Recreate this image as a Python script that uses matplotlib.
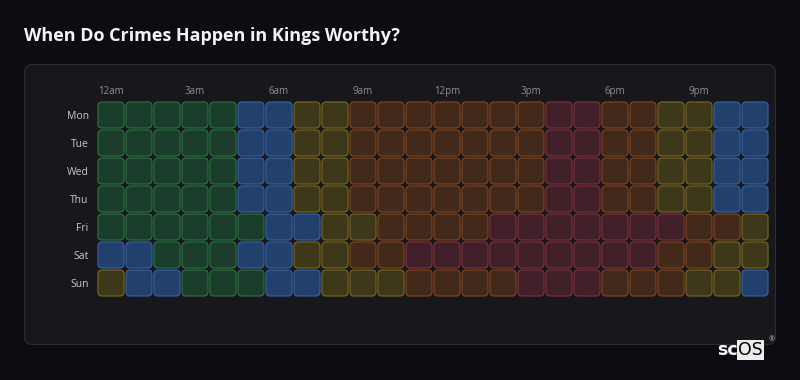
"""
Kings Worthy crime heatmap: day of week x hour of day, coloured by activity band
"""
import matplotlib
matplotlib.use('Agg')
import matplotlib.pyplot as plt
from matplotlib.patches import FancyBboxPatch

plt.rcParams['font.family'] = ['Open Sans', 'DejaVu Sans']

days = ['Mon', 'Tue', 'Wed', 'Thu', 'Fri', 'Sat', 'Sun']
hour_labels = ['12am', '3am', '6am', '9am', '12pm', '3pm', '6pm', '9pm']

# activity band per hour: 0 = quietest ... 4 = busiest
mon = [1, 1, 1, 1, 1, 0, 0, 2, 2, 3, 3, 3, 3, 3, 3, 3, 4, 4, 3, 3, 2, 2, 0, 0]
tue = [1, 1, 1, 1, 1, 0, 0, 2, 2, 3, 3, 3, 3, 3, 3, 3, 4, 4, 3, 3, 2, 2, 0, 0]
wed = [1, 1, 1, 1, 1, 0, 0, 2, 2, 3, 3, 3, 3, 3, 3, 3, 4, 4, 3, 3, 2, 2, 0, 0]
thu = [1, 1, 1, 1, 1, 0, 0, 2, 2, 3, 3, 3, 3, 3, 3, 3, 4, 4, 3, 3, 2, 2, 0, 0]
fri = [1, 1, 1, 1, 1, 1, 0, 0, 2, 2, 3, 3, 3, 3, 4, 4, 4, 4, 4, 4, 4, 3, 3, 2]
sat = [0, 0, 1, 1, 1, 0, 0, 2, 2, 3, 3, 4, 4, 4, 4, 4, 4, 4, 4, 4, 3, 3, 2, 2]
sun = [2, 0, 0, 1, 1, 1, 0, 0, 2, 2, 2, 3, 3, 3, 3, 4, 4, 4, 3, 3, 3, 2, 2, 0]
rows = [mon, tue, wed, thu, fri, sat, sun]

fills = ['#22406c', '#1b3d2b', '#3c3819', '#43291a', '#41202a']
edges = ['#3a62a6', '#2e7444', '#7a6a1e', '#85461f', '#87303f']

BG = '#0d0c12'
fig = plt.figure(figsize=(8, 3.8), dpi=100, facecolor=BG)

# background layer in pixel units
bg = fig.add_axes([0, 0, 1, 1])
bg.set_xlim(0, 800)
bg.set_ylim(380, 0)
bg.axis('off')
bg.add_patch(FancyBboxPatch((24.5, 64.5), 751, 280,
                            boxstyle='round,pad=0,rounding_size=8',
                            facecolor='#18181c', edgecolor='#2c2c32', linewidth=0.8))
bg.text(24, 36, 'When Do Crimes Happen in Kings Worthy?', color='#f4f4f6',
        fontsize=13, fontweight='bold', va='center', ha='left')

# logo
bg.text(717, 350, 'sc', color='white', fontsize=12.5, fontweight='bold', va='center', ha='left',
        family=['DejaVu Sans'])
bg.text(738, 350, 'OS', color='black', fontsize=12.5, va='center', ha='left', family=['DejaVu Sans'],
        bbox=dict(boxstyle='square,pad=0.05', facecolor='#ececec', edgecolor='none'))
bg.text(769, 340, '®', color='#cccccc', fontsize=5, va='center', ha='left')

# heatmap
ax = fig.add_axes([97 / 800, (380 - 297) / 380, 672 / 800, 196 / 380])
ax.set_xlim(0, len(mon))
ax.set_ylim(len(days), 0)
ax.set_facecolor('none')
for s in ax.spines.values():
    s.set_visible(False)

gap = 0.07
for r, vals in enumerate(rows):
    for c, v in enumerate(vals):
        ax.add_patch(FancyBboxPatch((c + gap / 2, r + gap / 2), 1 - gap, 1 - gap,
                                    boxstyle='round,pad=0,rounding_size=0.15',
                                    facecolor=fills[v], edgecolor=edges[v], linewidth=0.8))

ax.xaxis.tick_top()
ax.set_xticks([i * 3 + 0.5 for i in range(len(hour_labels))])
ax.set_xticklabels(hour_labels, fontsize=7, color='#8e8e94')
ax.set_yticks([r + 0.5 for r in range(len(days))])
ax.set_yticklabels(days, fontsize=7.5, color='#c8c8cc')
ax.tick_params(axis='x', length=0, pad=3)
ax.tick_params(axis='y', length=0, pad=6)

fig.savefig('out.png', dpi=100, facecolor=BG)
